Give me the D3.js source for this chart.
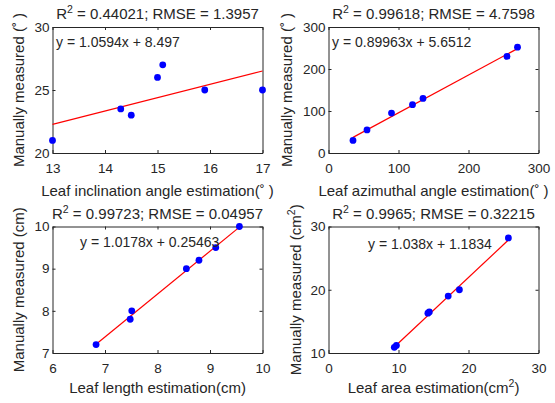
<!DOCTYPE html>
<html>
<head>
<meta charset="utf-8">
<script src="https://cdn.jsdelivr.net/npm/d3@7"></script>
<style>
  body { margin: 0; background: #fff; }
  svg text { font-family: "Liberation Sans", Arial, sans-serif; fill: #262626; }
  .axis path, .axis line { stroke: #262626; }
</style>
</head>
<body>
<svg id="chart" width="555" height="403"></svg>
<script>
// leaf inclination angle
var incX = [13, 14.3, 14.5, 15, 15.1, 15.9, 17];
var incY = [21, 23.5, 23, 26, 27, 25, 25];
// leaf azimuthal angle
var aziX = [35, 55, 90, 120, 135, 255, 270];
var aziY = [30, 55, 95, 115, 130, 230, 252];
// leaf length
var lenX = [6.83, 7.48, 7.51, 8.55, 8.79, 9.11, 9.56];
var lenY = [7.2, 7.8, 8.0, 9.0, 9.2, 9.5, 10.0];
// leaf area
var areaX = [9.4, 9.7, 14.2, 14.4, 17.1, 18.7, 25.7];
var areaY = [10.9, 11.2, 16.3, 16.5, 19, 20, 28.2];

var slopes = [1.0594, 0.89963, 1.0178, 1.038];
var intercepts = [8.497, 5.6512, 0.25463, 1.1834];
var r2Text = ["0.44021", "0.99618", "0.99723", "0.9965"];
var rmseText = ["1.3957", "4.7598", "0.04957", "0.32215"];
var eqText = ["y = 1.0594x + 8.497", "y = 0.89963x + 5.6512", "y = 1.0178x + 0.25463", "y = 1.038x + 1.1834"];

var xDomains = [[13, 17], [0, 300], [6, 10], [0, 30]];
var yDomains = [[20, 30], [0, 300], [7, 10], [10, 30]];
var xTicks = [[13, 14, 15, 16, 17], [0, 100, 200, 300], [6, 7, 8, 9, 10], [0, 10, 20, 30]];
var yTicks = [[20, 25, 30], [0, 100, 200, 300], [7, 8, 9, 10], [10, 20, 30]];

var xLabels = ["Leaf inclination angle estimation(\u02DA )", "Leaf azimuthal angle estimation(\u02DA )", "Leaf length estimation(cm)", "Leaf area estimation(cm"];
var yLabels = ["Manually measured (\u02DA )", "Manually measured (\u02DA )", "Manually measured (cm)", "Manually measured (cm"];

var xs = [incX, aziX, lenX, areaX];
var ys = [incY, aziY, lenY, areaY];

// panel boxes in px
var boxes = [
  {left: 52.5, right: 262.5, top: 27, bottom: 153, eqX: 56, eqY: 47, ylabX: 24, xlabDy: 43},
  {left: 328.5, right: 538.5, top: 27, bottom: 153, eqX: 332, eqY: 47, ylabX: 292, xlabDy: 43},
  {left: 52.5, right: 262.5, top: 226.5, bottom: 353, eqX: 80, eqY: 247, ylabX: 24, xlabDy: 40},
  {left: 328.5, right: 538.5, top: 226.5, bottom: 353, eqX: 368, eqY: 249, ylabX: 301, xlabDy: 40}
];

var svg = d3.select("#chart");
var fmt = d3.format("~g");

boxes.forEach(function(b, i) {
  var x = d3.scaleLinear().domain(xDomains[i]).range([b.left, b.right]);
  var y = d3.scaleLinear().domain(yDomains[i]).range([b.bottom, b.top]);
  var g = svg.append("g");

  g.append("g")
    .attr("class", "axis")
    .attr("transform", "translate(0," + b.bottom + ")")
    .call(d3.axisBottom(x).tickValues(xTicks[i]).tickFormat(fmt).tickSizeInner(-3).tickSizeOuter(0).tickPadding(10))
    .selectAll("text").style("font-size", "13.5px");
  g.append("g")
    .attr("class", "axis")
    .attr("transform", "translate(0," + b.top + ")")
    .call(d3.axisTop(x).tickValues(xTicks[i]).tickSizeInner(-3).tickSizeOuter(0).tickFormat(""));
  g.append("g")
    .attr("class", "axis")
    .attr("transform", "translate(" + b.left + ",0)")
    .call(d3.axisLeft(y).tickValues(yTicks[i]).tickFormat(fmt).tickSizeInner(-3).tickSizeOuter(0).tickPadding(3))
    .selectAll("text").style("font-size", "13.5px");
  g.append("g")
    .attr("class", "axis")
    .attr("transform", "translate(" + b.right + ",0)")
    .call(d3.axisRight(y).tickValues(yTicks[i]).tickSizeInner(-3).tickSizeOuter(0).tickFormat(""));
  svg.selectAll(".axis text").attr("font-family", null);

  // fit line
  var xExt = d3.extent(xs[i]);
  var fit = xExt.map(function(v) { return [v, slopes[i] * v + intercepts[i]]; });
  g.append("path")
    .datum(fit)
    .attr("fill", "none")
    .attr("stroke", "#ff0000")
    .attr("stroke-width", 1.2)
    .attr("d", d3.line().x(function(d) { return x(d[0]); }).y(function(d) { return y(d[1]); }));

  // points
  g.selectAll("circle")
    .data(d3.zip(xs[i], ys[i]))
    .join("circle")
    .attr("cx", function(d) { return x(d[0]); })
    .attr("cy", function(d) { return y(d[1]); })
    .attr("r", 3.4)
    .attr("fill", "#0000ff");

  // title
  var cx = (b.left + b.right) / 2;
  var t = g.append("text")
    .attr("x", cx)
    .attr("y", b.top - 8)
    .attr("text-anchor", "middle")
    .style("font-size", "15px");
  t.append("tspan").text("R");
  t.append("tspan").attr("dy", -6).style("font-size", "10.5px").text("2");
  t.append("tspan").attr("dy", 6).text(" = " + r2Text[i] + "; RMSE = " + rmseText[i]);

  // equation
  g.append("text")
    .attr("x", b.eqX)
    .attr("y", b.eqY)
    .style("font-size", "14px")
    .text(eqText[i]);

  // x label
  var xl = g.append("text")
    .attr("x", cx)
    .attr("y", b.bottom + b.xlabDy)
    .attr("text-anchor", "middle")
    .style("font-size", "15px")
    .text(xLabels[i]);
  if (i == 3) {
    xl.append("tspan").attr("dy", -6).style("font-size", "10.5px").text("2");
    xl.append("tspan").attr("dy", 6).text(")");
  }

  // y label
  var yl = g.append("text")
    .attr("transform", "translate(" + b.ylabX + "," + (b.top + b.bottom) / 2 + ") rotate(-90)")
    .attr("text-anchor", "middle")
    .style("font-size", "15px")
    .text(yLabels[i]);
  if (i == 3) {
    yl.append("tspan").attr("dy", -6).style("font-size", "10.5px").text("2");
    yl.append("tspan").attr("dy", 6).text(")");
  }
});
</script>
</body>
</html>
